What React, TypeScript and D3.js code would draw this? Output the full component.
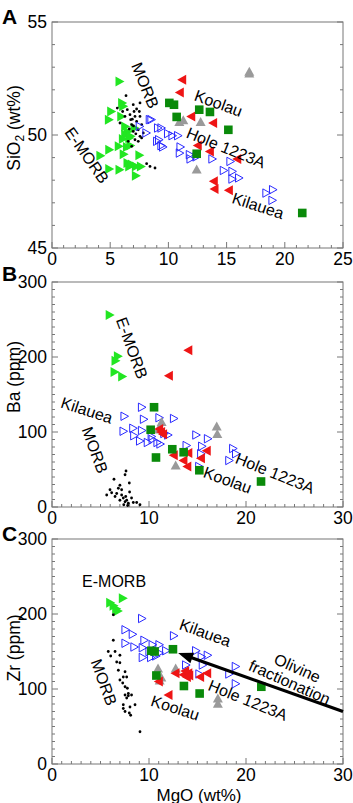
import React from 'react';
import * as d3 from 'd3';

type Pt = [number, number];

// ---------- Panel A: SiO2 vs MgO ----------
const aEmorb: Pt[] = [
  [5.84, 52.37], [6.07, 51.42], [6.16, 51.27], [5.13, 51.04], [4.93, 50.68], [5.99, 50.82],
  [6.33, 50.38], [6.53, 50.16], [7.13, 50.31], [6.33, 50.01], [6.13, 49.82], [6.68, 49.87],
  [6.8, 49.95], [5.78, 49.5], [4.96, 49.35], [4.2, 49.08], [6.48, 49.47], [6.77, 49.53],
  [7.55, 49.1], [6.53, 48.76], [6.68, 48.61], [7.25, 48.61], [7.68, 48.61], [4.96, 48.5],
  [5.84, 48.46], [7.25, 48.2], [6.9, 48.7], [6.2, 49.15],
];
const aMorb: Pt[] = [
  [6.36, 51.74], [5.61, 51.19], [6.47, 51.12], [6.98, 51.34], [7.27, 51.15], [7.5, 51.04],
  [6.27, 50.82], [6.7, 50.9], [7.13, 50.82], [7.56, 50.82], [5.84, 50.53], [6.85, 50.46],
  [7.27, 50.6], [7.7, 50.46], [7.41, 50.23], [6.98, 50.16], [7.56, 49.94], [7.13, 49.79],
  [7.41, 49.72], [7.7, 49.87], [6.55, 49.72], [8.13, 48.73], [8.42, 48.61], [8.85, 48.54],
  [6.76, 50.68], [7.05, 51.04], [7.84, 50.09], [6.07, 51.04], [6.85, 49.5], [7.56, 51.42],
  [6.64, 50.27], [7.0, 50.4], [7.2, 50.05], [6.9, 50.7],
];
const aKilauea: Pt[] = [
  [8.42, 50.68], [8.13, 50.09], [7.56, 50.38], [9.13, 50.31], [9.05, 49.72], [8.56, 50.68],
  [9.42, 50.31], [9.99, 50.06], [10.37, 49.97], [10.85, 49.97], [9.22, 49.79], [9.42, 49.53],
  [9.56, 49.47], [11.06, 49.47], [11.0, 49.2], [11.86, 49.13], [11.92, 48.94], [12.43, 49.03],
  [13.8, 48.94], [15.35, 48.83], [14.78, 48.43], [15.52, 48.39], [15.52, 48.05], [16.09, 48.1],
  [18.44, 47.43], [19.01, 47.58], [18.96, 47.11],
];
const aHole: Pt[] = [
  [11.14, 52.45], [10.94, 51.88], [11.92, 50.82], [13.8, 50.53], [12.48, 49.53], [13.52, 49.27],
  [15.87, 48.94], [13.86, 47.95], [13.92, 47.61], [15.15, 47.55],
];
const aKoolau: Pt[] = [
  [10.08, 51.42], [10.48, 51.34], [10.71, 50.8], [12.65, 51.12], [13.57, 51.02], [15.15, 50.23],
  [12.43, 49.17], [21.5, 46.55],
];
const aGray: Pt[] = [
  [16.95, 52.74], [16.95, 52.82], [10.94, 50.6], [11.28, 50.68], [12.77, 50.6], [12.43, 48.5],
];

// ---------- Panel B: Ba vs MgO ----------
const bEmorb: Pt[] = [[6.0, 256], [6.84, 201], [6.6, 195], [6.5, 180], [7.29, 174]];
const bMorb: Pt[] = [
  [7.63, 48], [7.53, 43], [7.97, 32], [6.39, 37], [7.0, 29], [5.98, 23], [5.64, 16], [6.15, 19],
  [6.67, 18], [7.18, 16], [7.35, 12], [7.7, 9], [8.2, 12], [8.73, 6], [7.87, 5], [7.53, 7],
  [7.0, 9], [6.5, 14], [8.38, 6], [9.07, 3], [7.18, 23], [6.84, 25], [7.4, 3], [7.6, 14],
  [8.0, 20], [7.8, 2],
];
const bKilauea: Pt[] = [
  [9.3, 133], [7.5, 121], [9.5, 117], [11.1, 119], [12.6, 118], [7.4, 101], [8.4, 105],
  [9.3, 102], [8.5, 95], [9.1, 88], [9.9, 86], [10.4, 90], [10.9, 86], [11.2, 84], [11.6, 98],
  [12.0, 96], [13.9, 82], [14.9, 96], [15.5, 81], [15.4, 71], [16.1, 91], [18.7, 78], [19.0, 71],
  [18.3, 62], [15.2, 54], [10.3, 94],
];
const bHole: Pt[] = [
  [14.0, 209], [12.0, 175], [11.0, 104], [11.2, 100], [11.4, 97], [12.5, 69], [13.5, 62],
  [13.9, 54], [14.0, 72], [15.3, 65], [15.9, 75],
];
const bKoolau: Pt[] = [
  [10.52, 133], [10.17, 103], [10.72, 66], [12.4, 77], [13.57, 73], [15.19, 49], [21.55, 34],
];
const bGray: Pt[] = [[11.3, 114], [10.96, 104], [12.75, 56], [16.98, 108], [17.04, 98]];

// ---------- Panel C: Zr vs MgO ----------
const cEmorb: Pt[] = [[6.05, 215], [7.35, 221], [6.4, 211], [6.67, 207], [6.84, 204]];
const cMorb: Pt[] = [
  [6.32, 199], [6.32, 165], [5.8, 150], [6.5, 150], [6.05, 144], [7.0, 145], [6.67, 136],
  [7.0, 135], [6.84, 125], [7.53, 123], [7.35, 116], [7.7, 116], [7.0, 112], [7.29, 108],
  [7.53, 103], [7.77, 101], [7.53, 92], [7.87, 91], [8.2, 92], [7.7, 88], [8.56, 79],
  [8.04, 76], [7.35, 74], [7.53, 70], [7.97, 68], [8.11, 65], [7.35, 79], [9.07, 43], [7.87, 94],
];
const cKilauea: Pt[] = [
  [9.31, 194], [7.6, 179], [8.35, 173], [9.55, 165], [7.6, 161], [8.52, 156], [9.38, 155],
  [10.4, 159], [11.1, 159], [9.38, 142], [10.24, 142], [10.76, 144], [11.1, 148], [11.79, 151],
  [12.6, 171], [14.88, 151], [15.46, 143], [16.08, 145], [13.85, 132], [15.57, 132], [15.22, 120],
  [18.3, 120], [18.97, 130], [18.97, 107], [10.07, 150],
];
const cHole: Pt[] = [
  [12.68, 121], [13.5, 119], [14.0, 121], [13.85, 116], [15.22, 116], [15.95, 121], [10.96, 110],
  [11.96, 92], [13.68, 124], [14.1, 118],
];
const cKoolau: Pt[] = [
  [10.24, 151], [10.58, 150], [12.47, 153], [10.76, 118], [13.6, 104], [15.22, 94], [21.58, 103],
];
const cGray: Pt[] = [[10.93, 128], [11.27, 116], [11.1, 112], [12.75, 128], [17.1, 88], [17.1, 81]];

// arrow in panel C (data units): tail, head
const cArrow: Pt[] = [[30, 70], [13.0, 148]];

const FONT = 'Liberation Sans, Arial, Helvetica, sans-serif';
const L = 52;
const R = 343;

const GREEN = '#22e622';
const DKGREEN = '#0a8a0a';
const RED = '#ee1515';
const BLUE = '#2a2aff';
const GRAY = '#9a9a9a';

type Kind = 'triR' | 'triL' | 'triU' | 'square' | 'openR' | 'dot';

function marker(kind: Kind, key: string, px: number, py: number) {
  const w = 4.5;
  const h = 5;
  switch (kind) {
    case 'triR':
      return <path key={key} d={`M${px - w},${py - h}L${px + w},${py}L${px - w},${py + h}Z`} fill={GREEN} />;
    case 'triL':
      return <path key={key} d={`M${px + w},${py - h}L${px - w},${py}L${px + w},${py + h}Z`} fill={RED} />;
    case 'triU':
      return <path key={key} d={`M${px - h},${py + w}L${px},${py - w}L${px + h},${py + w}Z`} fill={GRAY} />;
    case 'square':
      return <rect key={key} x={px - 4.3} y={py - 4.3} width={8.6} height={8.6} fill={DKGREEN} />;
    case 'openR':
      return (
        <path key={key} d={`M${px - 3.8},${py - 4.2}L${px + 3.8},${py}L${px - 3.8},${py + 4.2}Z`}
          fill="none" stroke={BLUE} strokeWidth={1} />
      );
    default:
      return <circle key={key} cx={px} cy={py} r={1.4} fill="#000" />;
  }
}

interface Label { text: string; x: number; y: number; rot: number }

interface PanelProps {
  letter: string;
  letterY: number;
  top: number;
  bottom: number;
  xMax: number;
  xMajor: number;
  yDomain: [number, number];
  yMinor: number;
  yMajor: number;
  yTitle: React.ReactNode;
  yTitleY: number;
  series: { kind: Kind; data: Pt[] }[];
  labels: Label[];
  arrow?: Pt[];
}

function Panel(p: PanelProps) {
  const x = d3.scaleLinear().domain([0, p.xMax]).range([L, R]);
  const y = d3.scaleLinear().domain(p.yDomain).range([p.bottom, p.top]);
  const xTicks = d3.range(0, p.xMax + 0.001, 1);
  const yTicks = d3.range(p.yDomain[0], p.yDomain[1] + 0.001, p.yMinor);
  const isMajor = (v: number, m: number) => Math.abs(v / m - Math.round(v / m)) < 1e-6;
  const axisCol = '#777';

  let arrowEl = null;
  if (p.arrow) {
    const [t, h] = p.arrow;
    const x1 = x(t[0]), y1 = y(t[1]), x2 = x(h[0]), y2 = y(h[1]);
    const ang = Math.atan2(y2 - y1, x2 - x1);
    const len = 15, half = 5.5;
    const bx = x2 - len * Math.cos(ang), by = y2 - len * Math.sin(ang);
    const nx = -Math.sin(ang), ny = Math.cos(ang);
    arrowEl = (
      <g>
        <line x1={x1} y1={y1} x2={bx + 2 * Math.cos(ang)} y2={by + 2 * Math.sin(ang)} stroke="#000" strokeWidth={3.2} />
        <path d={`M${x2},${y2}L${bx + nx * half},${by + ny * half}L${bx - nx * half},${by - ny * half}Z`} fill="#000" />
      </g>
    );
  }

  return (
    <g fontFamily={FONT}>
      <text x={2} y={p.letterY} fontSize={21} fontWeight="bold">{p.letter}</text>
      <rect x={L} y={p.top} width={R - L} height={p.bottom - p.top} fill="none" stroke={axisCol} strokeWidth={1} />
      {xTicks.map((v) => {
        const len = isMajor(v, p.xMajor) ? 6 : 3;
        return <line key={'xt' + v} x1={x(v)} x2={x(v)} y1={p.bottom} y2={p.bottom - len} stroke={axisCol} />;
      })}
      {yTicks.map((v) => {
        const len = isMajor(v, p.yMajor) ? 6 : 3;
        return (
          <g key={'yt' + v}>
            <line x1={L} x2={L + len} y1={y(v)} y2={y(v)} stroke={axisCol} />
            <line x1={R} x2={R - len} y1={y(v)} y2={y(v)} stroke={axisCol} />
          </g>
        );
      })}
      {xTicks.filter((v) => isMajor(v, p.xMajor)).map((v) => (
        <text key={'xl' + v} x={x(v)} y={p.bottom + 17} fontSize={17.5} textAnchor="middle">{v}</text>
      ))}
      {yTicks.filter((v) => isMajor(v, p.yMajor)).map((v) => (
        <text key={'yl' + v} x={L - 5} y={y(v)} dy="0.36em" fontSize={17.5} textAnchor="end">{v}</text>
      ))}
      <text transform={`translate(20,${p.yTitleY}) rotate(-90)`} fontSize={17.5} textAnchor="middle">{p.yTitle}</text>
      {p.series.map((s, si) => s.data.map((d, i) => marker(s.kind, `${si}-${i}`, x(d[0]), y(d[1]))))}
      {arrowEl}
      {p.labels.map((lb, i) => (
        <text key={'lb' + i} transform={`translate(${x(lb.x)},${y(lb.y)}) rotate(${lb.rot})`}
          fontSize={16} textAnchor="middle" dy="0.35em">{lb.text}</text>
      ))}
    </g>
  );
}

export default function App() {
  return (
    <svg width={353} height={803} style={{ position: 'absolute', left: 0, top: 0, background: '#fff' }}>
      <Panel
        letter="A" letterY={24} top={22} bottom={248} xMax={25} xMajor={5}
        yDomain={[45, 55]} yMinor={1} yMajor={5} yTitleY={128}
        yTitle={<><tspan>SiO</tspan><tspan dy={4} fontSize={12}>2</tspan><tspan dy={-4}> (wt%)</tspan></>}
        series={[
          { kind: 'triR', data: aEmorb },
          { kind: 'dot', data: aMorb },
          { kind: 'openR', data: aKilauea },
          { kind: 'triU', data: aGray },
          { kind: 'triL', data: aHole },
          { kind: 'square', data: aKoolau },
        ]}
        labels={[
          { text: 'MORB', x: 8.0, y: 52.2, rot: 68 },
          { text: 'E-MORB', x: 3.0, y: 49.1, rot: 55 },
          { text: 'Koolau', x: 14.3, y: 51.4, rot: 20 },
          { text: 'Hole 1223A', x: 14.95, y: 49.44, rot: 22 },
          { text: 'Kilauea', x: 17.7, y: 46.87, rot: 18 },
        ]}
      />
      <Panel
        letter="B" letterY={281} top={282} bottom={507} xMax={30} xMajor={10}
        yDomain={[0, 300]} yMinor={10} yMajor={100} yTitleY={377}
        yTitle="Ba (ppm)"
        series={[
          { kind: 'triR', data: bEmorb },
          { kind: 'dot', data: bMorb },
          { kind: 'openR', data: bKilauea },
          { kind: 'triU', data: bGray },
          { kind: 'triL', data: bHole },
          { kind: 'square', data: bKoolau },
        ]}
        labels={[
          { text: 'E-MORB', x: 8.25, y: 212, rot: 70 },
          { text: 'Kilauea', x: 3.6, y: 129, rot: 18 },
          { text: 'MORB', x: 4.43, y: 76, rot: 70 },
          { text: 'Hole 1223A', x: 23.0, y: 45, rot: 22 },
          { text: 'Koolau', x: 18.1, y: 36, rot: 20 },
        ]}
      />
      <Panel
        letter="C" letterY={541} top={539} bottom={764} xMax={30} xMajor={10}
        yDomain={[0, 300]} yMinor={10} yMajor={100} yTitleY={648}
        yTitle="Zr (ppm)"
        series={[
          { kind: 'triR', data: cEmorb },
          { kind: 'dot', data: cMorb },
          { kind: 'openR', data: cKilauea },
          { kind: 'triU', data: cGray },
          { kind: 'triL', data: cHole },
          { kind: 'square', data: cKoolau },
        ]}
        arrow={cArrow}
        labels={[
          { text: 'E-MORB', x: 6.4, y: 243, rot: 0 },
          { text: 'MORB', x: 5.36, y: 109, rot: 70 },
          { text: 'Kilauea', x: 15.8, y: 175, rot: 20 },
          { text: 'Koolau', x: 12.7, y: 75, rot: 18 },
          { text: 'Hole 1223A', x: 20.2, y: 85, rot: 22 },
          { text: 'Olivine', x: 25.3, y: 128, rot: 24 },
          { text: 'fractionation', x: 24.5, y: 109, rot: 24 },
        ]}
      />
      <text x={199} y={800.5} fontSize={17} fontFamily={FONT} textAnchor="middle">MgO (wt%)</text>
    </svg>
  );
}
